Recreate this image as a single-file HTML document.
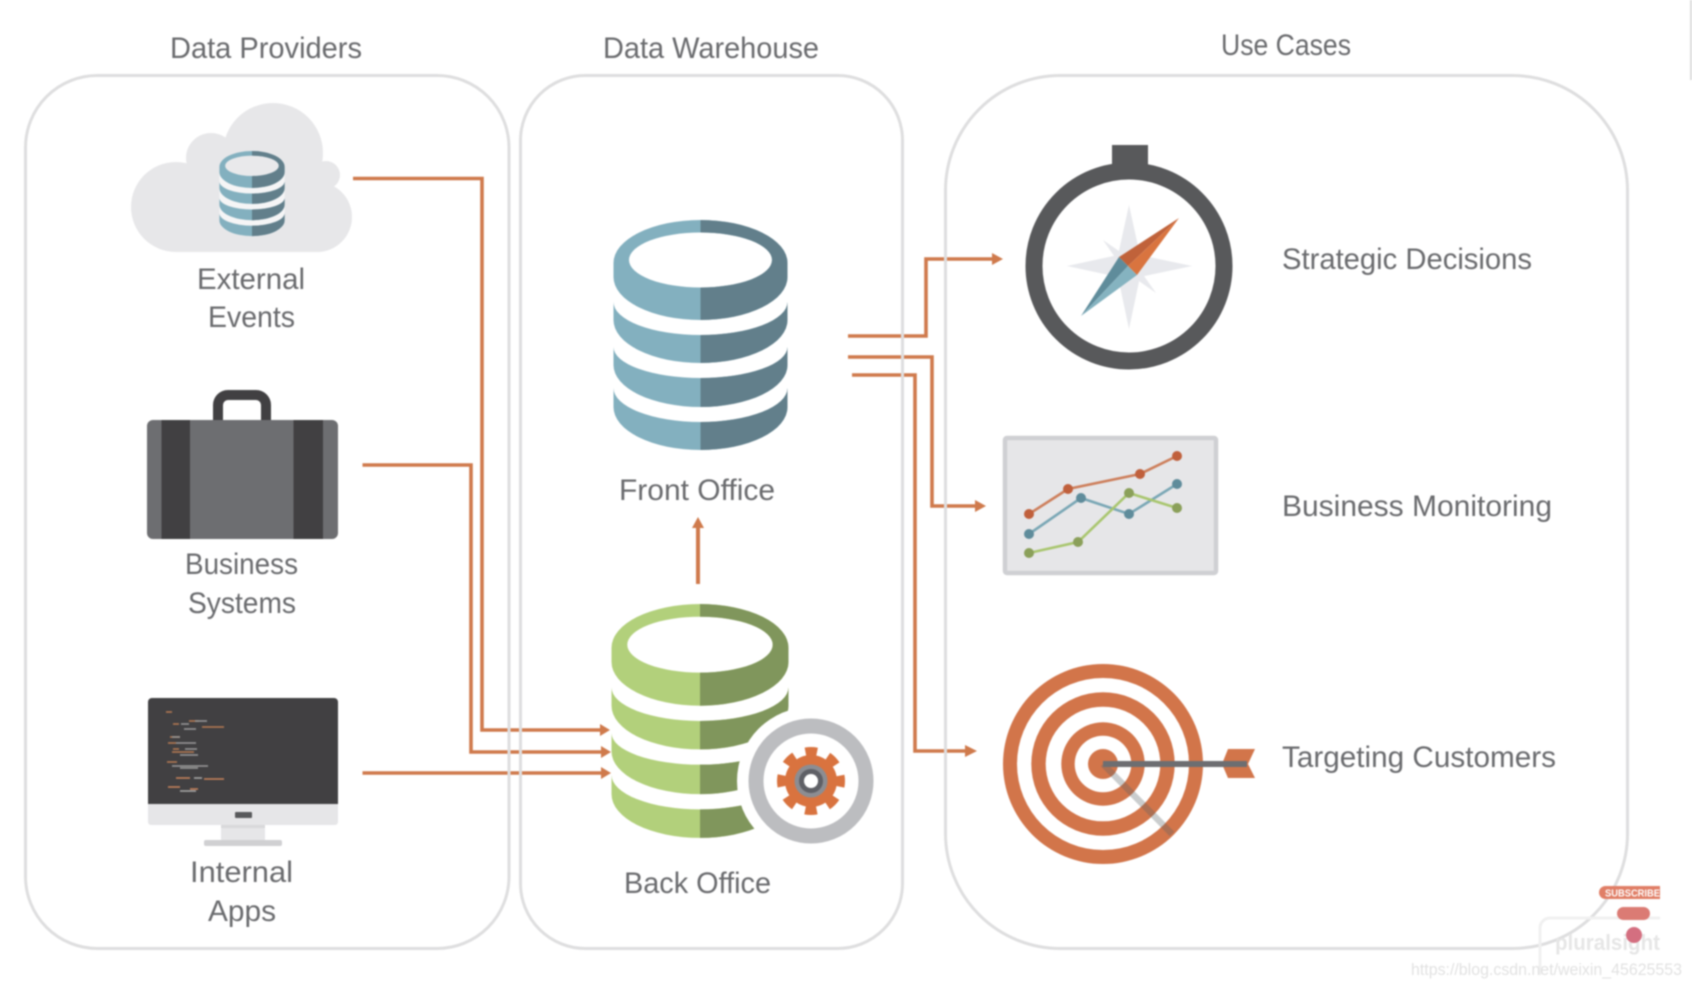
<!DOCTYPE html>
<html><head><meta charset="utf-8"><style>
html,body{margin:0;padding:0;background:#fff;width:1692px;height:988px;overflow:hidden}
svg{display:block;filter:blur(.7px)}
text{font-family:"Liberation Sans",sans-serif;font-size:30px;fill:#6a6b6e}
</style></head><body>
<svg width="1692" height="988" viewBox="0 0 1692 988" xmlns="http://www.w3.org/2000/svg">
<defs>
<path id="db" fill-rule="evenodd" d="M-87 43A87 43 0 0 1 87 43L87 57A87 43 0 0 1 -87 57ZM-71.5 40A71.5 27.5 0 1 0 71.5 40A71.5 27.5 0 1 0 -71.5 40Z
M-87 82A87 33 0 0 0 87 82L87 100A87 43 0 0 1 -87 100Z
M-87 127A87 31 0 0 0 87 127L87 145A87 42 0 0 1 -87 145Z
M-87 168A87 34 0 0 0 87 168L87 187A87 43 0 0 1 -87 187Z"/>
<clipPath id="rh"><rect x="0" y="-5" width="100" height="245"/></clipPath>
</defs>
<rect width="1692" height="988" fill="#fff"/>

<!-- cloud -->
<g fill="#e7e7e9">
<circle cx="273" cy="153" r="50"/><circle cx="211" cy="158" r="25"/><circle cx="176" cy="207" r="45"/>
<circle cx="326" cy="175" r="14"/><circle cx="317" cy="217" r="35"/>
<rect x="190" y="150" width="130" height="102"/>
<rect x="176" y="185" width="144" height="67"/>
</g>
<g transform="translate(252,151) scale(.375,.37)">
<path d="M-87 43A87 43 0 0 1 87 43V187A87 43 0 0 1 -87 187Z" fill="#f5f5f6"/>
<ellipse cx="0" cy="40" rx="73" ry="29" fill="#e9e9eb"/>
<use href="#db" fill="#83b0bf"/><use href="#db" fill="#627f8b" clip-path="url(#rh)"/></g>

<!-- briefcase -->
<rect x="218" y="395" width="48" height="40" rx="10" fill="none" stroke="#414042" stroke-width="10"/>
<rect x="147" y="420" width="191" height="119" rx="6" fill="#6d6e71"/>
<rect x="161.5" y="420" width="28.5" height="119" fill="#414042"/>
<rect x="293.5" y="420" width="29.5" height="119" fill="#414042"/>

<!-- monitor -->
<path d="M148 804V702a4 4 0 0 1 4-4H334a4 4 0 0 1 4 4V804Z" fill="#414042"/>
<path d="M148 804H338V822a3 3 0 0 1-3 3H151a3 3 0 0 1-3-3Z" fill="#e6e6e8"/>
<rect x="235" y="812" width="17" height="6" rx="1" fill="#58595b"/>
<rect x="221" y="825" width="44" height="15" fill="#e6e6e8"/>
<rect x="221" y="825" width="44" height="3" fill="#d8d8da"/>
<rect x="204" y="840" width="78" height="6" rx="2" fill="#d0d0d2"/>
<g stroke-width="1.5" fill="none">
<path d="M166 712h6M173 724h6M189 721h10M202 727h22M170 737h10M168 743h8M173 749h6M172 752h22M167 762h10" stroke="#b87a52"/>
<path d="M181 724h8M195 721h12M184 729h12M172 737h8M176 743h20M185 749h12M180 755h18M172 766h36M180 768h18" stroke="#9a9a9a"/>
<path d="M176 778h14M204 779h20M168 787h12M190 789h8" stroke="#c9825a"/>
<path d="M194 778h8M180 791h16" stroke="#aaa"/>
</g>

<!-- connectors -->
<g fill="none" stroke="#cf7a4c" stroke-width="3.6">
<path d="M353 178.500H482V730H602"/>
<path d="M362.500 465H471V752H602"/>
<path d="M362.500 773H602"/>
<path d="M848 336H926V259H994"/>
<path d="M848 357H932V506H977"/>
<path d="M852 375H915V751H967"/>
<path d="M698 584V526" stroke-width="4"/>
</g>
<g fill="#cf7a4c">
<path d="M600 724L610 730L600 736Z"/>
<path d="M601 746L611 752L601 758Z"/>
<path d="M601 767L611 773L601 779Z"/>
<path d="M992 253L1003 259L992 265Z"/>
<path d="M975 500L986 506L975 512Z"/>
<path d="M965 745L977 751L965 757Z"/>
<path d="M692 528L698 517L704 528Z"/>
</g>

<!-- panels -->
<g fill="none" stroke="#dededf" stroke-width="3">
<rect x="25.500" y="75.500" width="483.500" height="873" rx="72"/>
<rect x="520.500" y="75.500" width="382" height="873" rx="65"/>
<rect x="945.500" y="75.500" width="682" height="873" rx="115"/>
</g>

<!-- front office -->
<g transform="translate(700.500,220)"><use href="#db" fill="#83b0bf"/><use href="#db" fill="#627f8b" clip-path="url(#rh)"/></g>

<!-- back office -->
<g transform="translate(700,604) scale(1.017,1.017)"><use href="#db" fill="#b2d07b"/><use href="#db" fill="#80965c" clip-path="url(#rh)"/></g>
<circle cx="811" cy="781" r="74" fill="#fff"/>
<circle cx="811" cy="781" r="55" fill="none" stroke="#bcbdc0" stroke-width="15"/>
<circle cx="811" cy="781" r="26" fill="#d9733f"/>
<circle cx="811" cy="781" r="29" fill="none" stroke="#d9733f" stroke-width="10" stroke-dasharray="11.39 11.39" stroke-dashoffset="5.7"/>
<circle cx="811" cy="781" r="16.500" fill="#8c8d92"/>
<circle cx="811" cy="781" r="12" fill="#5f6066"/>
<circle cx="811" cy="781" r="7" fill="#fff"/>

<!-- compass -->
<rect x="1112" y="145" width="36" height="30" fill="#58595b"/>
<circle cx="1129" cy="266" r="95" fill="#fff" stroke="#58595b" stroke-width="17"/>
<g fill="#e8e9ed">
<path d="M1129 205L1140 255L1192 266L1140 277L1129 329L1118 277L1067 266L1118 255Z"/>
<path d="M1103 240L1129 258L1121 266Z"/>
<path d="M1156 293L1129 274L1137 266Z"/>
</g>
<path d="M1179 218L1119 257L1128 266Z" fill="#c0623a"/>
<path d="M1179 218L1128 266L1137 275Z" fill="#d9743f"/>
<path d="M1081 316L1119 257L1128 266Z" fill="#5f8c9b"/>
<path d="M1081 316L1128 266L1137 275Z" fill="#85b3c0"/>

<!-- chart -->
<rect x="1005" y="438" width="211" height="135" rx="2" fill="#e6e6e8" stroke="#cfd0d3" stroke-width="4.500"/>
<g fill="none" stroke-width="2.600">
<polyline points="1029,514 1068,489 1140,474 1177,456" stroke="#cd7f5c"/>
<polyline points="1029,534 1081,498 1129,514 1177,484" stroke="#7aa7b5"/>
<polyline points="1029,553 1078,542 1129,493 1177,508" stroke="#a9c66f"/>
</g>
<g fill="#c0603c"><circle cx="1029" cy="514" r="5"/><circle cx="1068" cy="489" r="5"/><circle cx="1140" cy="474" r="5"/><circle cx="1177" cy="456" r="5"/></g>
<g fill="#5f8c9b"><circle cx="1029" cy="534" r="5"/><circle cx="1081" cy="498" r="5"/><circle cx="1129" cy="514" r="5"/><circle cx="1177" cy="484" r="5"/></g>
<g fill="#8ba05a"><circle cx="1029" cy="553" r="5"/><circle cx="1078" cy="542" r="5"/><circle cx="1129" cy="493" r="5"/><circle cx="1177" cy="508" r="5"/></g>

<!-- target -->
<circle cx="1103" cy="764" r="100" fill="#d2754a"/>
<circle cx="1103" cy="764" r="86" fill="#fff"/>
<circle cx="1103" cy="764" r="71.700" fill="#d2754a"/>
<circle cx="1103" cy="764" r="57.300" fill="#fff"/>
<circle cx="1103" cy="764" r="41.700" fill="#d2754a"/>
<circle cx="1103" cy="764" r="28.300" fill="#fff"/>
<circle cx="1103" cy="764" r="15" fill="#d2754a"/>
<path d="M1103 764L1172 834" stroke="#5a6266" stroke-opacity=".32" stroke-width="6.500"/>
<path d="M1222 764L1228 749H1255L1248 764L1255 778H1228Z" fill="#d2754a"/>
<path d="M1103 764H1247" stroke="#6d6e71" stroke-width="6"/>

<!-- titles/labels -->
<text x="170" y="58" textLength="192" lengthAdjust="spacingAndGlyphs">Data Providers</text>
<text x="603" y="58" textLength="216" lengthAdjust="spacingAndGlyphs">Data Warehouse</text>
<text x="1221" y="55" textLength="130" lengthAdjust="spacingAndGlyphs">Use Cases</text>
<text x="197" y="289" textLength="108" lengthAdjust="spacingAndGlyphs">External</text>
<text x="208" y="327" textLength="87" lengthAdjust="spacingAndGlyphs">Events</text>
<text x="185" y="574" textLength="113" lengthAdjust="spacingAndGlyphs">Business</text>
<text x="188" y="613" textLength="108" lengthAdjust="spacingAndGlyphs">Systems</text>
<text x="190" y="882" textLength="103" lengthAdjust="spacingAndGlyphs">Internal</text>
<text x="208" y="921" textLength="68" lengthAdjust="spacingAndGlyphs">Apps</text>
<text x="619" y="500" textLength="156" lengthAdjust="spacingAndGlyphs">Front Office</text>
<text x="624" y="893" textLength="147" lengthAdjust="spacingAndGlyphs">Back Office</text>
<text x="1282" y="269" textLength="250" lengthAdjust="spacingAndGlyphs">Strategic Decisions</text>
<text x="1282" y="516" textLength="270" lengthAdjust="spacingAndGlyphs">Business Monitoring</text>
<text x="1282" y="767" textLength="274" lengthAdjust="spacingAndGlyphs">Targeting Customers</text>

<!-- top right tick -->
<rect x="1690" y="0" width="2" height="80" fill="#dcdcdc"/>

<!-- watermark area -->
<path d="M1660 918H1550a10 10 0 0 0-10 10V975" fill="none" stroke="#f0f0f0" stroke-width="3"/>
<text x="1555" y="950" textLength="105" lengthAdjust="spacingAndGlyphs" style="font-size:22px;font-weight:bold;fill:#e6e6e6">pluralsight</text>
<rect x="1660" y="880" width="32" height="70" fill="#fff"/>
<path d="M1660 886H1605.500a6.500 6.500 0 0 0 0 13H1660Z" fill="#e07e66"/>
<text x="1605" y="896.500" textLength="55" lengthAdjust="spacingAndGlyphs" style="font-size:10px;font-weight:bold;fill:#fff">SUBSCRIBE</text>
<rect x="1617" y="907" width="33" height="13" rx="6.500" fill="#db7b74"/>
<circle cx="1634" cy="935" r="8" fill="#d46f80"/>
<text x="1411" y="975" textLength="271" lengthAdjust="spacingAndGlyphs" style="font-size:17px;fill:#e2e2e2">https://blog.csdn.net/weixin_45625553</text>
</svg>
</body></html>
